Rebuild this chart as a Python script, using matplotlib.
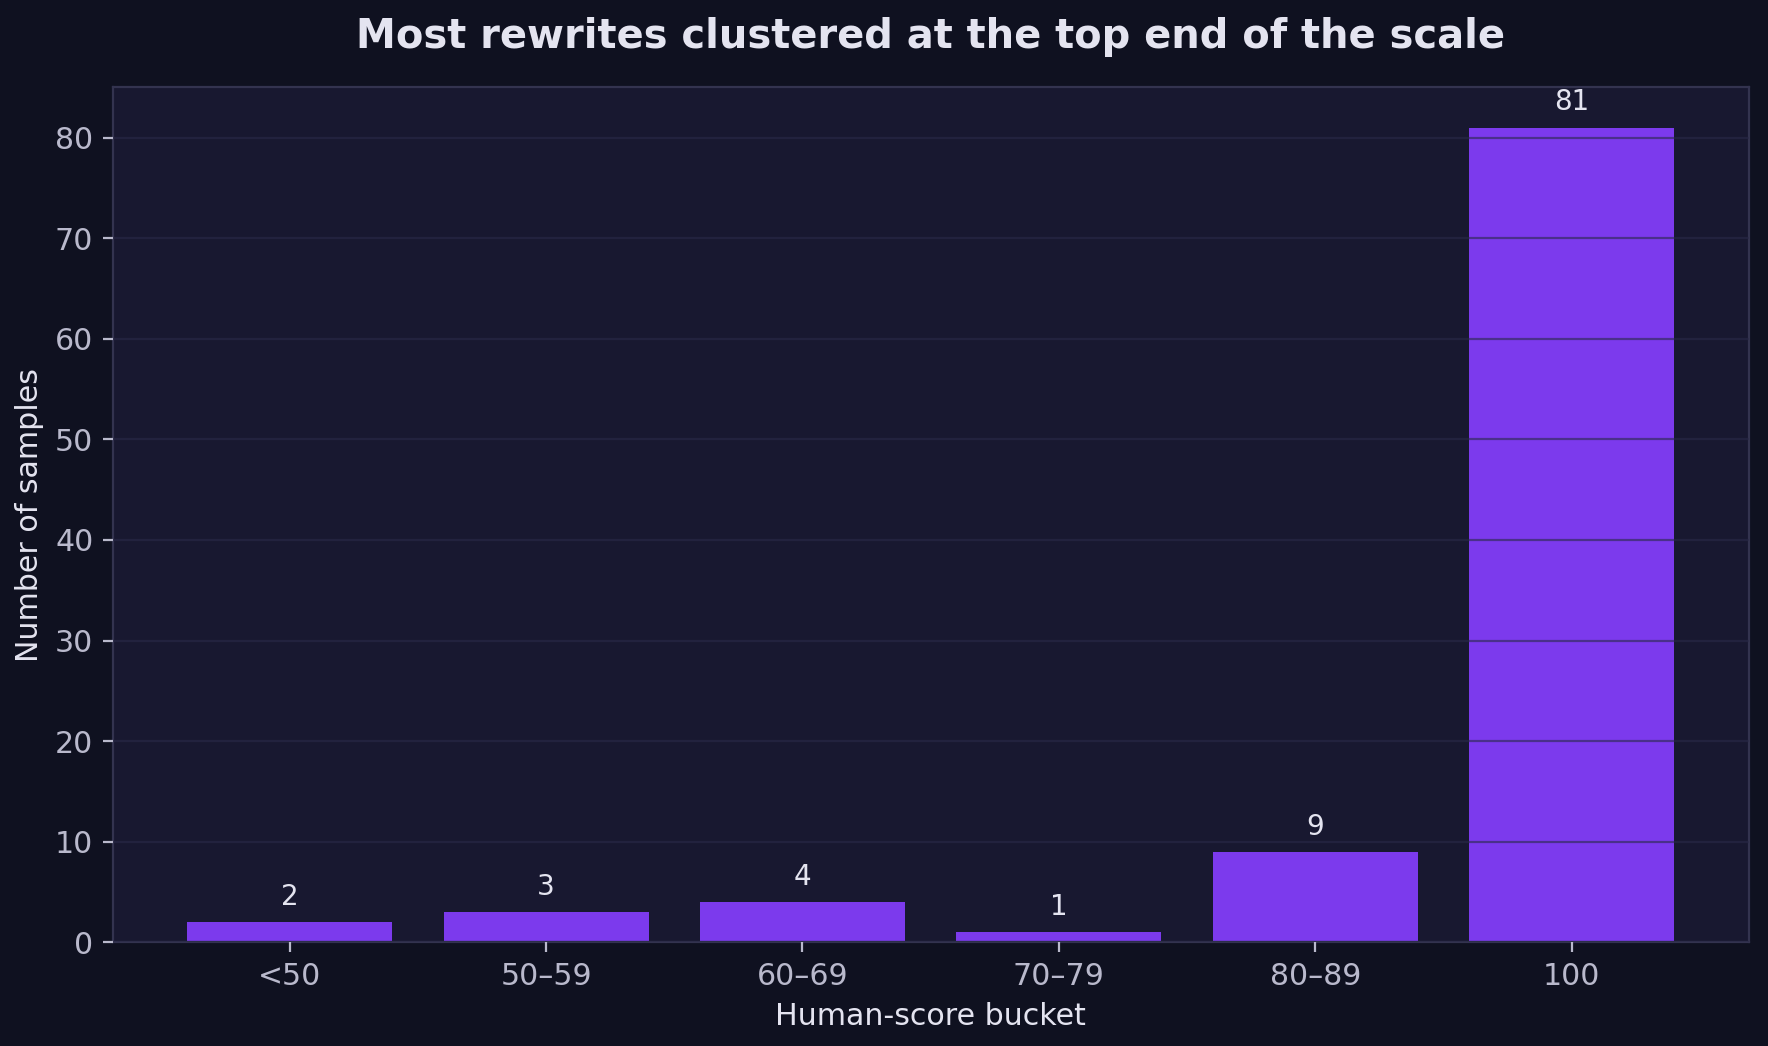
import numpy as np
import matplotlib.pyplot as plt

# Datos
buckets = ["<50", "50–59", "60–69", "70–79", "80–89", "100"]
muestras = [2, 3, 4, 1, 9, 81]

# Colores
fondo = "#0f1120"
fondo_ejes = "#181830"
barra = "#7c3aed"
texto = "#e4e4f0"
texto_suave = "#b9b9cc"
borde = "#33334f"

fig = plt.figure(figsize=(8.84, 5.23), dpi=200, facecolor=fondo)
ax = fig.add_axes([0.0638, 0.0991, 0.9252, 0.8179])
ax.set_facecolor(fondo_ejes)

x = np.arange(len(buckets))
barras = ax.bar(x, muestras, width=0.8, color=barra, zorder=2)

for b, v in zip(barras, muestras):
    ax.annotate(str(v), (b.get_x() + b.get_width() / 2, v),
                xytext=(0, 4), textcoords="offset points",
                ha="center", va="bottom", fontsize=10, color=texto)

ax.set_xticks(x)
ax.set_xticklabels(buckets)
ax.set_yticks(np.arange(0, 81, 10))
ax.grid(axis="y", color="#2a2a48", alpha=0.6, linewidth=0.8, zorder=3)
ax.set_axisbelow(False)

for s in ax.spines.values():
    s.set_color(borde)
    s.set_linewidth(0.8)

ax.tick_params(colors=texto_suave, labelsize=10.8)
ax.set_xlabel("Human-score bucket", color=texto, fontsize=10.8)
ax.set_ylabel("Number of samples", color=texto, fontsize=10.8)
ax.set_title("Most rewrites clustered at the top end of the scale",
             color=texto, fontsize=14.4, fontweight="bold", pad=14)

fig.savefig("out.png", dpi=200, facecolor=fondo)
